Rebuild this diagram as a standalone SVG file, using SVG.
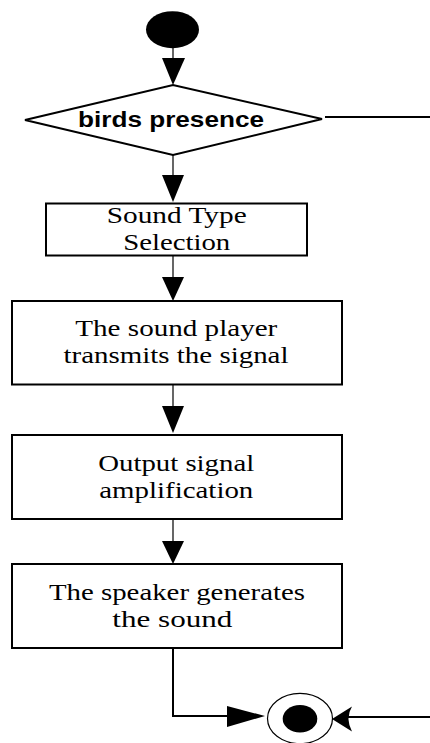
<svg xmlns="http://www.w3.org/2000/svg" width="430" height="743" viewBox="0 0 430 743">
<style>
.box{fill:#fff;stroke:#000;stroke-width:2}
.t{font-family:"Liberation Serif","Times New Roman",serif;font-size:24px;fill:#000;text-anchor:middle}
.b{font-family:"Liberation Sans",Arial,sans-serif;font-size:22px;font-weight:bold;fill:#000}
.thin{stroke:#000;stroke-width:1.2;fill:none}
.thick{stroke:#000;stroke-width:2;fill:none}
.head{fill:#000;stroke:none}
</style>
<rect width="430" height="743" fill="#fff"/>
<g id="connectors">
<line class="thin" x1="173" y1="47" x2="173" y2="60"/>
<polygon class="head" points="162,58 185,58 173,85"/>
<line class="thin" x1="173" y1="155" x2="173" y2="177"/>
<polygon class="head" points="162,175 184,175 173,202"/>
<line class="thin" x1="173" y1="256" x2="173" y2="279"/>
<polygon class="head" points="162,277 184,277 173,301"/>
<line class="thin" x1="173" y1="385" x2="173" y2="408"/>
<polygon class="head" points="162,406 184,406 173,433"/>
<line class="thin" x1="173" y1="519" x2="173" y2="543"/>
<polygon class="head" points="162,541 184,541 173,564"/>
<polyline class="thick" points="173,648 173,716 230,716"/>
<polygon class="head" points="227,706 265,716 227,727"/>
<line class="thick" x1="325" y1="117" x2="430" y2="117"/>
<line class="thick" x1="348" y1="717" x2="430" y2="717"/>
<path class="head" d="M332,719 L352,706.5 Q345,718 352,731.5 Z"/>
</g>
<g id="start">
<ellipse cx="172.5" cy="29.7" rx="26.5" ry="18.5" fill="#000"/>
</g>
<g id="decision">
<polygon points="25,120 173,85 322,119 173,155" fill="#fff" stroke="#000" stroke-width="2"/>
<text class="b" x="78" y="127" textLength="186" lengthAdjust="spacingAndGlyphs">birds presence</text>
</g>
<g id="n1">
<rect class="box" x="46" y="203.5" width="261" height="52"/>
<text class="t" x="176.7" y="223.3" textLength="140" lengthAdjust="spacingAndGlyphs">Sound Type</text>
<text class="t" x="176.7" y="250" textLength="107" lengthAdjust="spacingAndGlyphs">Selection</text>
</g>
<g id="n2">
<rect class="box" x="12" y="301" width="330" height="83.5"/>
<text class="t" x="176.3" y="336" textLength="202" lengthAdjust="spacingAndGlyphs">The sound player</text>
<text class="t" x="176" y="363.3" textLength="225" lengthAdjust="spacingAndGlyphs">transmits the signal</text>
</g>
<g id="n3">
<rect class="box" x="12" y="435" width="330" height="84"/>
<text class="t" x="176.2" y="470.7" textLength="156" lengthAdjust="spacingAndGlyphs">Output signal</text>
<text class="t" x="176.3" y="497.8" textLength="154" lengthAdjust="spacingAndGlyphs">amplification</text>
</g>
<g id="n4">
<rect class="box" x="12" y="564" width="330" height="84"/>
<text class="t" x="177" y="600" textLength="256" lengthAdjust="spacingAndGlyphs">The speaker generates</text>
<text class="t" x="172.3" y="626.7" textLength="120" lengthAdjust="spacingAndGlyphs">the sound</text>
</g>
<g id="end">
<ellipse cx="300" cy="718.5" rx="32.5" ry="25.2" fill="#fff" stroke="#000" stroke-width="1.2"/>
<ellipse cx="300" cy="718.8" rx="17.3" ry="13.8" fill="#000"/>
</g>
</svg>
